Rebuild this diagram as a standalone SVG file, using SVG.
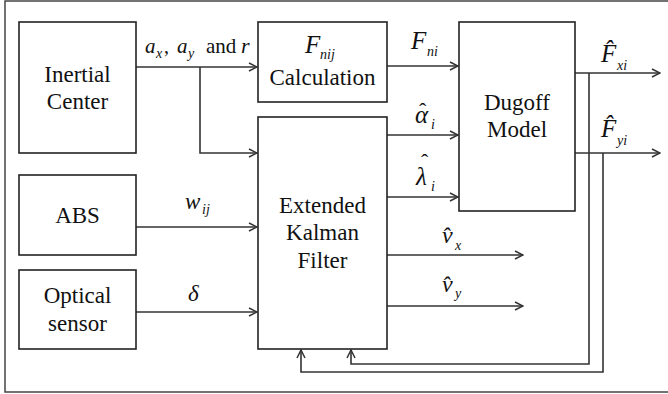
<svg xmlns="http://www.w3.org/2000/svg" width="668" height="394" viewBox="0 0 668 394">
<defs>
<marker id="arr" viewBox="0 0 10 10" refX="9" refY="5" markerWidth="10" markerHeight="10" markerUnits="userSpaceOnUse" orient="auto">
<path d="M1,1 L9,5 L1,9" fill="none" stroke="#333" stroke-width="1.5"/>
</marker>
</defs>
<rect x="0" y="0" width="668" height="394" fill="#fff"/>
<rect x="5" y="1" width="700" height="391" fill="none" stroke="#444" stroke-width="1.5"/>

<g id="connectors" fill="none" stroke="#333" stroke-width="1.6">
<path d="M136,67 H257" marker-end="url(#arr)"/>
<path d="M200,67 V153 H257" marker-end="url(#arr)"/>
<path d="M136,227 H257" marker-end="url(#arr)"/>
<path d="M136,312 H257" marker-end="url(#arr)"/>
<path d="M387,66 H458" marker-end="url(#arr)"/>
<path d="M387,135 H458" marker-end="url(#arr)"/>
<path d="M387,197 H458" marker-end="url(#arr)"/>
<path d="M387,255 H523" marker-end="url(#arr)"/>
<path d="M387,306 H523" marker-end="url(#arr)"/>
<path d="M575,73 H660" marker-end="url(#arr)"/>
<path d="M575,153 H660" marker-end="url(#arr)"/>
<path d="M589,73 V364 H351 V350" marker-end="url(#arr)"/>
<path d="M603,153 V372 H301 V350" marker-end="url(#arr)"/>
</g>

<g font-family="Liberation Serif" fill="#111">
<g id="inertial">
<rect x="19" y="22" width="117" height="131" fill="#fff" stroke="#222" stroke-width="1.6"/>
<text x="77.5" y="82" font-size="23" text-anchor="middle" style="font-family:'Liberation Serif',serif !important">Inertial</text>
<text x="77.5" y="109" font-size="23" text-anchor="middle" style="font-family:'Liberation Serif',serif !important">Center</text>
</g>
<g id="abs">
<rect x="19" y="175" width="117" height="80" fill="#fff" stroke="#222" stroke-width="1.6"/>
<text x="77.5" y="223" font-size="23" text-anchor="middle" style="font-family:'Liberation Serif',serif !important">ABS</text>
</g>
<g id="optical">
<rect x="19" y="270" width="117" height="79" fill="#fff" stroke="#222" stroke-width="1.6"/>
<text x="77.5" y="303" font-size="23" text-anchor="middle" style="font-family:'Liberation Serif',serif !important">Optical</text>
<text x="77.5" y="331" font-size="23" text-anchor="middle" style="font-family:'Liberation Serif',serif !important">sensor</text>
</g>
<g id="fnij">
<rect x="258" y="22" width="129" height="80" fill="#fff" stroke="#222" stroke-width="1.6"/>
<text x="305" y="53" font-size="25" font-style="italic" style="font-family:'Liberation Serif',serif !important">F</text>
<text x="320" y="59" font-size="14" font-style="italic" style="font-family:'Liberation Serif',serif !important">nij</text>
<text x="322.5" y="85" font-size="23" text-anchor="middle" style="font-family:'Liberation Serif',serif !important">Calculation</text>
</g>
<g id="ekf">
<rect x="258" y="117" width="129" height="232" fill="#fff" stroke="#222" stroke-width="1.6"/>
<text x="322.5" y="213" font-size="23" text-anchor="middle" style="font-family:'Liberation Serif',serif !important">Extended</text>
<text x="322.5" y="240" font-size="23" text-anchor="middle" style="font-family:'Liberation Serif',serif !important">Kalman</text>
<text x="322.5" y="268" font-size="23" text-anchor="middle" style="font-family:'Liberation Serif',serif !important">Filter</text>
</g>
<g id="dugoff">
<rect x="459" y="22" width="116" height="189" fill="#fff" stroke="#222" stroke-width="1.6"/>
<text x="517" y="110" font-size="23" text-anchor="middle" style="font-family:'Liberation Serif',serif !important">Dugoff</text>
<text x="517" y="137" font-size="23" text-anchor="middle" style="font-family:'Liberation Serif',serif !important">Model</text>
</g>

<g id="labels">
<text x="145" y="53" font-size="21" font-style="italic" style="font-family:'Liberation Serif',serif !important">a</text>
<text x="156" y="58" font-size="14" font-style="italic" style="font-family:'Liberation Serif',serif !important">x</text>
<text x="164" y="53" font-size="20" style="font-family:'Liberation Serif',serif !important">,</text>
<text x="177" y="53" font-size="21" font-style="italic" style="font-family:'Liberation Serif',serif !important">a</text>
<text x="188" y="58" font-size="14" font-style="italic" style="font-family:'Liberation Serif',serif !important">y</text>
<text x="206" y="53" font-size="21" style="font-family:'Liberation Serif',serif !important">and</text>
<text x="241" y="53" font-size="22" font-style="italic" style="font-family:'Liberation Serif',serif !important">r</text>

<text x="185" y="209" font-size="23" font-style="italic" style="font-family:'Liberation Serif',serif !important">w</text>
<text x="202" y="214" font-size="14" font-style="italic" style="font-family:'Liberation Serif',serif !important">ij</text>
<text x="188" y="301" font-size="23" font-style="italic" style="font-family:'Liberation Serif',serif !important">δ</text>

<text x="411" y="49" font-size="25" font-style="italic" style="font-family:'Liberation Serif',serif !important">F</text>
<text x="427" y="56" font-size="14" font-style="italic" style="font-family:'Liberation Serif',serif !important">ni</text>

<text x="419" y="118" font-size="22" style="font-family:'Liberation Serif',serif !important">ˆ</text>
<text x="415" y="123" font-size="25" font-style="italic" style="font-family:'Liberation Serif',serif !important">α</text>
<text x="431" y="129" font-size="14" font-style="italic" style="font-family:'Liberation Serif',serif !important">i</text>
<text x="421" y="169" font-size="22" style="font-family:'Liberation Serif',serif !important">ˆ</text>
<text x="416" y="185" font-size="25" font-style="italic" style="font-family:'Liberation Serif',serif !important">λ</text>
<text x="431" y="191" font-size="14" font-style="italic" style="font-family:'Liberation Serif',serif !important">i</text>

<text x="442" y="243" font-size="24" font-style="italic" style="font-family:'Liberation Serif',serif !important">v̂</text>
<text x="455" y="250" font-size="14" font-style="italic" style="font-family:'Liberation Serif',serif !important">x</text>
<text x="442" y="292" font-size="24" font-style="italic" style="font-family:'Liberation Serif',serif !important">v̂</text>
<text x="455" y="298" font-size="14" font-style="italic" style="font-family:'Liberation Serif',serif !important">y</text>

<text x="601" y="62" font-size="25" font-style="italic" style="font-family:'Liberation Serif',serif !important">F̂</text>
<text x="617" y="70" font-size="14" font-style="italic" style="font-family:'Liberation Serif',serif !important">xi</text>
<text x="601" y="137" font-size="25" font-style="italic" style="font-family:'Liberation Serif',serif !important">F̂</text>
<text x="617" y="145" font-size="14" font-style="italic" style="font-family:'Liberation Serif',serif !important">yi</text>
</g>
</g>
</svg>
